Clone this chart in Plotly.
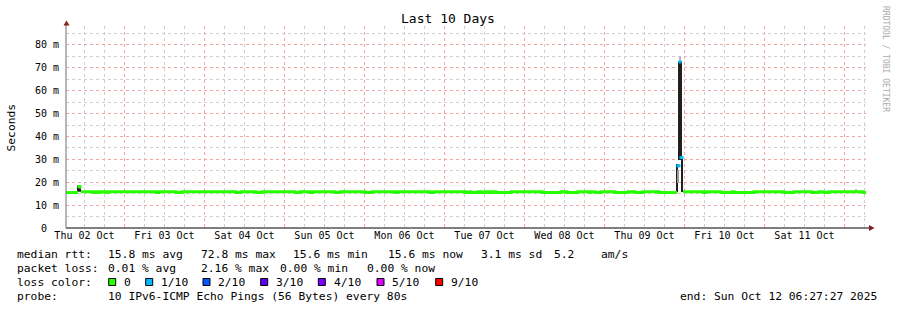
import datetime as dt
import plotly.graph_objects as go

# ---------------- data ----------------
START = dt.datetime(2025, 10, 2, 6, 27, 27)
END = dt.datetime(2025, 10, 12, 6, 27, 27)

# median rtt (ms) as step points, hours since START; None = no median drawn (gap)
med_hours = [0.0, 3.6, 3.6, 4.5, 8.1, 8.7, 9.3, 10.2, 12.0, 12.6, 27.0, 27.9, 33.0, 34.8,
             51.0, 52.5, 57.0, 58.8, 68.7, 70.2, 73.2, 74.1, 80.7, 82.2, 89.7, 91.8,
             98.7, 99.6, 109.2, 110.4, 120.0, 121.2, 121.5, 123.6, 124.5, 125.7, 126.9,
             127.8, 129.0, 133.5, 142.8, 148.5, 150.3, 153.6, 156.9, 157.2, 158.7, 160.5,
             164.7, 168.6, 170.7, 173.1, 177.9, 183.3, 183.3, 185.1, 191.1, 192.0, 196.5,
             199.8, 200.4, 206.4, 215.4, 218.4, 223.8, 225.9, 227.4, 228.9, 239.1, 240.0]
med_ms = [15.5, 15.5, None, 15.9, 15.5, 15.9, 15.5, 15.9, 15.5, 15.9, 15.5, 15.9, 15.5, 15.9,
          15.5, 15.9, 15.5, 15.9, 15.5, 15.9, 15.5, 15.9, 15.5, 15.9, 15.5, 15.9,
          15.5, 15.9, 15.5, 15.9, 15.5, 15.9, 15.5, 15.9, 15.5, 15.9, 15.5,
          15.9, 15.5, 15.9, 15.5, 15.9, 15.5, 15.9, 15.5, 15.9, 15.5, 15.9,
          15.5, 15.9, 15.5, 15.9, 15.5, 15.5, None, 15.9, 15.5, 15.9, 15.5,
          15.9, 15.5, 15.9, 15.5, 15.9, 15.5, 15.9, 15.5, 15.9, 15.5, 15.5]

# isolated median samples (spikes), with loss index into loss_colors
spk_hours = [3.9, 4.2, 183.6, 183.9, 184.2, 184.5, 184.8]
spk_ms = [18.1, 18.1, 27.2, 27.2, 72.6, 30.8, 30.8]
spk_loss = [0, 0, 1, 1, 1, 1, 1]

# smoke (ping spread): hours, low ms, high ms, shade
smoke_hours = [3.6, 4.2, 183.3, 183.6, 183.9, 184.2, 184.2, 184.5, 184.8, 237.0]
smoke_lo = [15.8, 15.8, 15.6, 19.7, 29.7, 29.7, 72.8, 29.7, 15.7, 16.2]
smoke_hi = [18.6, 17.4, 28.0, 25.4, 72.8, 72.8, 75.0, 72.8, 30.4, 17.0]
smoke_shade = ["#202020", "#202020", "#202020", "#9a9a9a", "#202020", "#202020",
               "#b8b8b8", "#202020", "#202020", "#c0c0c0"]

loss_labels = ["0", "1/10", "2/10", "3/10", "4/10", "5/10", "9/10"]
loss_colors = ["#26ff00", "#00b8ff", "#0059ff", "#5e00ff", "#7e00ff", "#dd00ff", "#ff0000"]

y_tickvals = [0, 10, 20, 30, 40, 50, 60, 70, 80]
y_ticktext = ["0\u00a0\u00a0", "10 m", "20 m", "30 m", "40 m", "50 m", "60 m", "70 m", "80 m"]

rtt_items = ["median rtt:", "15.8 ms avg", "72.8 ms max", "15.6 ms min", "15.6 ms now",
             "3.1 ms sd", "5.2", "am/s"]
loss_items = ["packet loss:", "0.01 % avg", "2.16 % max", "0.00 % min", "0.00 % now"]
probe_items = ["probe:", "10 IPv6-ICMP Echo Pings (56 Bytes) every 80s"]
end_text = "end: Sun Oct 12 06:27:27 2025"
title_text = "Last 10 Days"

# ---------------- layout helpers ----------------
W, H = 897, 310
L, R, T, B = 66, 866, 26, 228
FONT = "DejaVu Sans Mono"


def px(x):
    return (x - L) / (R - L)


def py(y):
    return (B - y) / (B - T)


def t(h):
    return START + dt.timedelta(hours=h)


fig = go.Figure()

# smoke
fig.add_trace(go.Bar(
    x=[t(h) for h in smoke_hours],
    base=smoke_lo,
    y=[hi - lo for lo, hi in zip(smoke_lo, smoke_hi)],
    width=[0.3 * 3600 * 1000] * len(smoke_hours),
    marker=dict(color=smoke_shade, line=dict(width=0)),
    showlegend=False, hoverinfo="skip",
))

# median line
fig.add_trace(go.Scatter(
    x=[t(h) for h in med_hours], y=med_ms, mode="lines",
    line=dict(color=loss_colors[0], width=3, shape="hv"),
    connectgaps=False, showlegend=False, hoverinfo="skip",
))

# spike medians
fig.add_trace(go.Scatter(
    x=[t(h) for h in spk_hours], y=spk_ms, mode="markers",
    marker=dict(symbol="square", size=3, color=[loss_colors[i] for i in spk_loss],
                line=dict(width=0)),
    showlegend=False, hoverinfo="skip",
))

red_grid = "#f4a4a4"
gray_grid = "#cfcfcf"

fig.update_layout(
    template="none",
    width=W, height=H,
    margin=dict(l=L, r=W - R, t=T, b=H - B, pad=0),
    paper_bgcolor="white", plot_bgcolor="white",
    barmode="overlay",
    font=dict(family=FONT, color="black"),
    xaxis=dict(
        type="date", range=[START, END],
        tickformat="%a %d %b", ticklabelmode="period",
        tick0="2025-10-02", dtick=86400000,
        showgrid=True, gridcolor=red_grid, griddash="dot", gridwidth=1,
        minor=dict(tick0="2025-10-02", dtick=21600000, showgrid=True,
                   gridcolor=gray_grid, griddash="dot", gridwidth=1),
        zeroline=False, showline=False, ticks="",
        tickfont=dict(family=FONT, size=10, color="black"),
    ),
    yaxis=dict(
        range=[0, 88.3], tickvals=y_tickvals, ticktext=y_ticktext,
        showgrid=True, gridcolor=red_grid, griddash="dot", gridwidth=1,
        minor=dict(tickvals=[5, 15, 25, 35, 45, 55, 65, 75, 85], showgrid=True,
                   gridcolor=gray_grid, griddash="dot", gridwidth=1),
        zeroline=False, showline=False, ticks="", ticklabelstandoff=6,
        tickfont=dict(family=FONT, size=10, color="black"),
    ),
)

shapes = []
# axes lines and arrows
shapes.append(dict(type="line", xref="paper", yref="paper", x0=px(66), x1=px(869),
                   y0=py(228), y1=py(228), line=dict(color="black", width=1)))
shapes.append(dict(type="line", xref="paper", yref="paper", x0=px(66), x1=px(66),
                   y0=py(228), y1=py(24), line=dict(color="#707070", width=1)))
shapes.append(dict(type="path", xref="paper", yref="paper",
                   path=f"M {px(66.5)} {py(20.5)} L {px(63.5)} {py(25.5)} L {px(69.5)} {py(25.5)} Z",
                   fillcolor="#8b1c1c", line=dict(width=0)))
shapes.append(dict(type="path", xref="paper", yref="paper",
                   path=f"M {px(874.5)} {py(228)} L {px(869)} {py(225)} L {px(869)} {py(231)} Z",
                   fillcolor="#8b1c1c", line=dict(width=0)))

annotations = []


def text(x, y, s, size=11.3, color="black", xanchor="left", angle=0):
    annotations.append(dict(xref="paper", yref="paper", x=px(x), y=py(y), text=s,
                            showarrow=False, xanchor=xanchor, yanchor="middle",
                            textangle=angle,
                            font=dict(family=FONT, size=size, color=color)))


text(448, 19, title_text, size=13, xanchor="center")
text(886, 59, "RRDTOOL / TOBI OETIKER", size=8, color="#aaaaaa", xanchor="center", angle=90)
text(11, 127.5, "Seconds", size=11.3, xanchor="center", angle=-90)

rtt_x = [16, 107, 200, 292, 386.5, 480, 553, 600]
for xx, s in zip(rtt_x, rtt_items):
    text(xx - 1, 254, s)
loss_x = [16, 107, 200, 279, 365.5]
for xx, s in zip(loss_x, loss_items):
    text(xx - 1, 268, s)
text(15, 282, "loss color:")
box_x = [108.7, 145.7, 203, 260.7, 318.3, 377, 435.7]
lab_x = [123.3, 160, 217.3, 275, 332.7, 391.3, 450]
for bx, lx, lab, col in zip(box_x, lab_x, loss_labels, loss_colors):
    shapes.append(dict(type="rect", xref="paper", yref="paper",
                       x0=px(bx), x1=px(bx + 7), y0=py(285.5), y1=py(278.5),
                       fillcolor=col, line=dict(color="black", width=1)))
    text(lx - 1, 282, lab)
text(15, 296, probe_items[0])
text(106, 296, probe_items[1])
text(677.5, 296, end_text)

fig.update_layout(shapes=shapes, annotations=annotations)

fig.write_html("out.html")
